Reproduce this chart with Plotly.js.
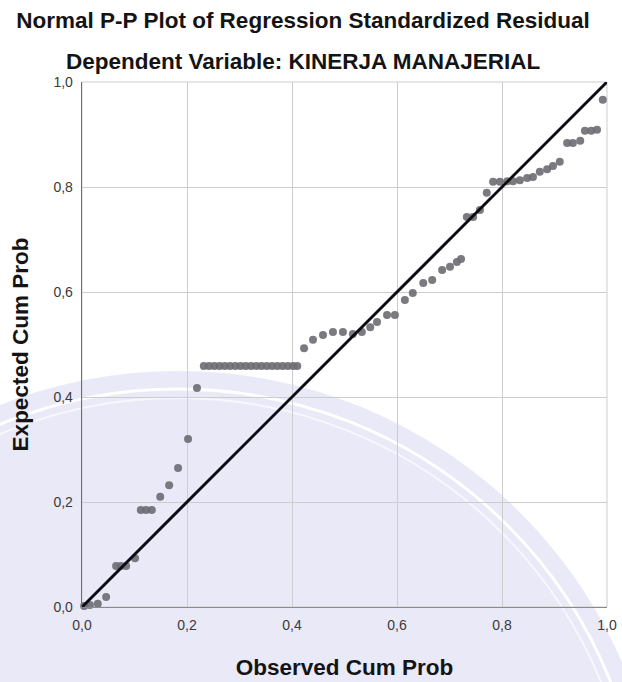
<!DOCTYPE html>
<html>
<head>
<meta charset="utf-8">
<script src="https://cdn.plot.ly/plotly-3.0.1.min.js"></script>
<style>
  html, body { margin: 0; padding: 0; background: #ffffff; }
  #chart { width: 622px; height: 682px; }
</style>
</head>
<body>
<div id="chart"></div>
<script>
// ---- Data ----
const observedCumProb = [
  0.004, 0.015, 0.030, 0.046, 0.065, 0.074, 0.084, 0.101, 0.112, 0.122,
  0.133, 0.149, 0.166, 0.183, 0.202, 0.219,
  0.232, 0.242, 0.252, 0.262, 0.272, 0.282, 0.292, 0.302, 0.312, 0.322,
  0.332, 0.342, 0.352, 0.362, 0.372, 0.382, 0.392, 0.402, 0.410,
  0.423, 0.440, 0.459, 0.478, 0.497, 0.516, 0.533, 0.549, 0.562, 0.581,
  0.596, 0.615, 0.630, 0.650, 0.667, 0.686, 0.701, 0.714, 0.722, 0.733,
  0.745, 0.758, 0.771, 0.783, 0.796, 0.810, 0.821, 0.834, 0.848, 0.859,
  0.872, 0.886, 0.897, 0.910, 0.924, 0.935, 0.949, 0.958, 0.970, 0.981,
  0.992
];
const expectedCumProb = [
  0.002, 0.004, 0.006, 0.019, 0.078, 0.078, 0.078, 0.093, 0.185, 0.185,
  0.185, 0.210, 0.232, 0.265, 0.320, 0.417,
  0.459, 0.459, 0.459, 0.459, 0.459, 0.459, 0.459, 0.459, 0.459, 0.459,
  0.459, 0.459, 0.459, 0.459, 0.459, 0.459, 0.459, 0.459, 0.459,
  0.493, 0.509, 0.518, 0.524, 0.524, 0.520, 0.524, 0.533, 0.543, 0.556,
  0.556, 0.585, 0.598, 0.617, 0.623, 0.642, 0.648, 0.657, 0.663, 0.743,
  0.743, 0.756, 0.789, 0.810, 0.810, 0.811, 0.811, 0.813, 0.817, 0.819,
  0.829, 0.834, 0.840, 0.848, 0.884, 0.884, 0.888, 0.907, 0.907, 0.909,
  0.966
];
const refLineX = [0, 1];
const refLineY = [0, 1];
const tickVals = [0, 0.2, 0.4, 0.6, 0.8, 1.0];
const tickText = ['0,0', '0,2', '0,4', '0,6', '0,8', '1,0'];

const chartTitle = 'Normal P-P Plot of Regression Standardized Residual';
const chartSubtitle = 'Dependent Variable: KINERJA MANAJERIAL';
const xTitle = 'Observed Cum Prob';
const yTitle = 'Expected Cum Prob';

// ---- Plot ----
const FONT = 'Liberation Sans, Arial, sans-serif';

const traces = [
  {
    type: 'scatter', mode: 'markers',
    x: observedCumProb, y: expectedCumProb,
    marker: { size: 8, color: 'rgba(108,108,114,0.9)', line: { width: 0 } },
    cliponaxis: false, hoverinfo: 'x+y', showlegend: false
  },
  {
    type: 'scatter', mode: 'lines',
    x: refLineX, y: refLineY,
    line: { color: '#0c0c14', width: 3 },
    cliponaxis: false, hoverinfo: 'skip', showlegend: false
  }
];

// plot area: x 82..607, y 82..607 (525 px square)
function px2paperX(px) { return (px - 82) / 525; }
function px2paperY(py) { return (607 - py) / 525; }
function circleShape(cx, cy, r, fill, lineColor, lineWidth) {
  return {
    type: 'circle', xref: 'paper', yref: 'paper', layer: 'below',
    x0: px2paperX(cx - r), x1: px2paperX(cx + r),
    y0: px2paperY(cy + r), y1: px2paperY(cy - r),
    fillcolor: fill, line: { color: lineColor, width: lineWidth }
  };
}

const layout = {
  width: 622, height: 682,
  margin: { l: 82, r: 15, t: 82, b: 75, pad: 0 },
  paper_bgcolor: '#ffffff',
  plot_bgcolor: 'rgba(0,0,0,0)',
  font: { family: FONT, color: '#222' },
  title: {
    text: '<b>' + chartTitle + '</b>',
    x: 303 / 622, xref: 'container', xanchor: 'center',
    y: 1 - 20 / 682, yref: 'container', yanchor: 'middle',
    font: { family: FONT, size: 22.5, color: '#141414' }
  },
  xaxis: {
    range: [0, 1], tickvals: tickVals, ticktext: tickText,
    ticks: 'outside', ticklen: 5, tickcolor: 'rgba(0,0,0,0)',
    tickfont: { family: FONT, size: 14, color: '#3a3a3a' },
    showgrid: true, gridcolor: '#cdcdcd', gridwidth: 1,
    showline: true, linecolor: '#8a8a8a', linewidth: 1.3,
    zeroline: false, fixedrange: true, automargin: false,
    title: { text: '<b>' + xTitle + '</b>', standoff: 27,
             font: { family: FONT, size: 22.5, color: '#141414' } }
  },
  yaxis: {
    range: [0, 1], tickvals: tickVals, ticktext: tickText,
    ticks: 'outside', ticklen: 5, tickcolor: 'rgba(0,0,0,0)',
    tickfont: { family: FONT, size: 14, color: '#3a3a3a' },
    showgrid: true, gridcolor: '#cdcdcd', gridwidth: 1,
    showline: true, linecolor: '#6e6e6e', linewidth: 1.3,
    zeroline: false, fixedrange: true, automargin: false,
    title: { text: '<b>' + yTitle + '</b>', standoff: 18,
             font: { family: FONT, size: 22.5, color: '#141414' } }
  },
  annotations: [
    {
      text: '<b>' + chartSubtitle + '</b>',
      xref: 'paper', yref: 'paper',
      x: px2paperX(303), y: px2paperY(62),
      xanchor: 'center', yanchor: 'middle', showarrow: false,
      font: { family: FONT, size: 22.5, color: '#141414' }
    }
  ],
  shapes: [
    // faint university seal watermark behind the chart
    circleShape(178, 855, 484, 'rgb(233,233,248)', 'rgba(0,0,0,0)', 0),
    circleShape(178, 855, 466, 'rgba(0,0,0,0)', '#ffffff', 3),
    circleShape(178, 855, 457, 'rgba(0,0,0,0)', '#f7f7fd', 2),
    // light frame on the top and right of the plot area
    { type: 'rect', xref: 'paper', yref: 'paper', layer: 'below',
      x0: 0, x1: 1, y0: 0, y1: 1,
      fillcolor: 'rgba(0,0,0,0)', line: { color: '#cdcdcd', width: 1 } }
  ]
};

Plotly.newPlot('chart', traces, layout, { displayModeBar: false, staticPlot: true });
</script>
</body>
</html>
